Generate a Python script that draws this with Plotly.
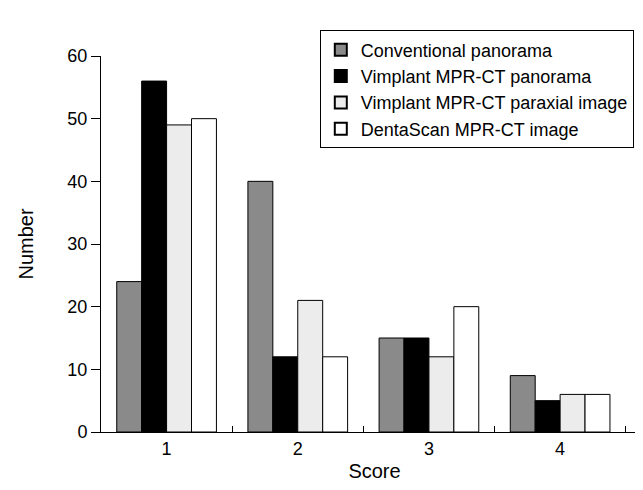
import plotly.graph_objects as go

scores = ["1", "2", "3", "4"]
series_names = ["Conventional panorama", "Vimplant MPR-CT panorama",
                "Vimplant MPR-CT paraxial image", "DentaScan MPR-CT image"]
conventional = [24, 40, 15, 9]
vimplant_pan = [56, 12, 15, 5]
vimplant_para = [49, 21, 12, 6]
dentascan = [50, 12, 20, 6]
y_ticks = [0, 10, 20, 30, 40, 50, 60]

values = [conventional, vimplant_pan, vimplant_para, dentascan]
colors = ["#8a8a8a", "#000000", "#ececec", "#ffffff"]

fig = go.Figure()
for name, vals, col in zip(series_names, values, colors):
    fig.add_trace(go.Bar(x=scores, y=vals, name=name,
                         marker=dict(color=col, line=dict(color="black", width=1))))

font = "Liberation Sans, Arial, Helvetica, sans-serif"
fig.update_layout(
    width=643, height=490,
    margin=dict(l=93, r=3, t=48, b=66),
    paper_bgcolor="white", plot_bgcolor="white",
    barmode="group", bargap=0.24, bargroupgap=0,
    font=dict(family=font, size=18, color="black"),
    legend=dict(x=0.40, y=1.068, xanchor="left", yanchor="top",
                bgcolor="white", bordercolor="black", borderwidth=1,
                font=dict(size=18), tracegroupgap=0, itemsizing="constant",
                itemwidth=30),
    xaxis=dict(type="category", range=[-0.5, 3.67], showline=True, linecolor="black",
               linewidth=1, ticks="inside", tickson="boundaries", ticklen=6,
               tickcolor="black", showgrid=False, zeroline=False,
               title=dict(text="Score", font=dict(size=20), standoff=6)),
    yaxis=dict(range=[0, 60], tickvals=y_ticks, showline=True, linecolor="black",
               linewidth=1, ticks="outside", ticklen=9, tickcolor="black",
               showgrid=False, zeroline=False,
               title=dict(text="Number", font=dict(size=20), standoff=28)),
)

fig.write_html("out.html")
